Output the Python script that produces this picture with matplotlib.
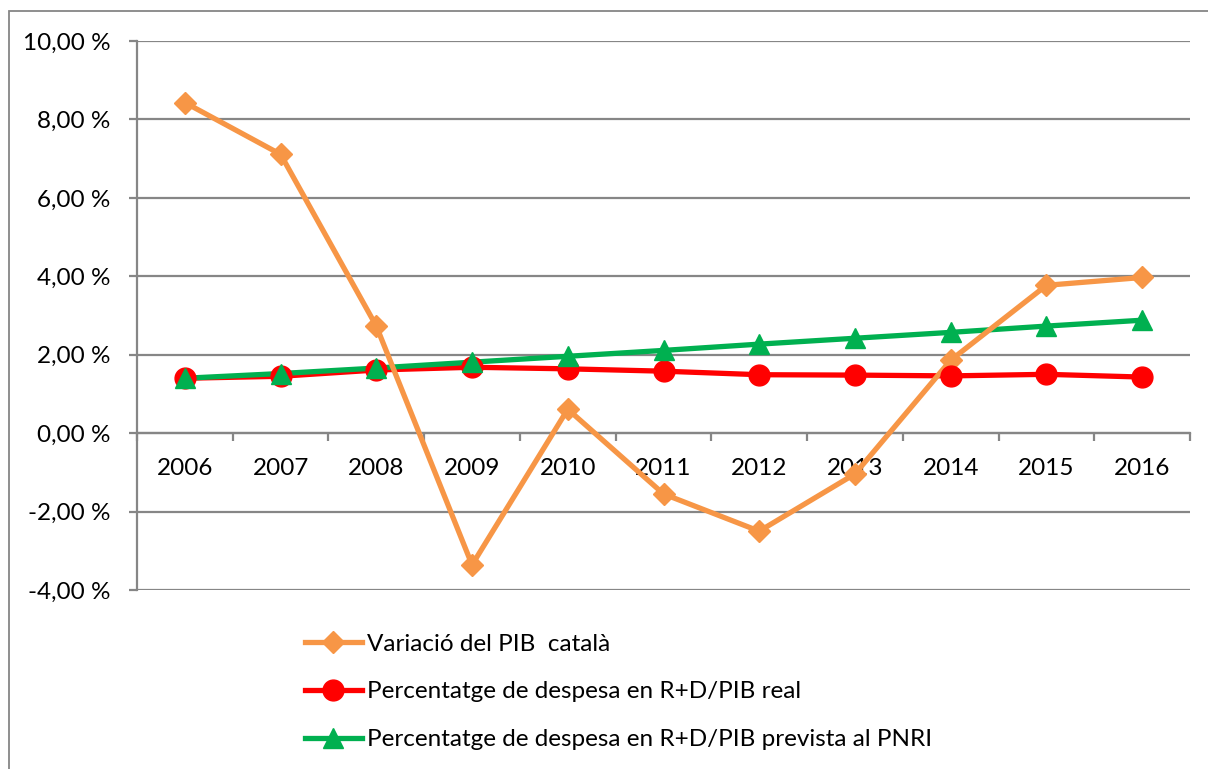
import matplotlib
matplotlib.use('Agg')
import matplotlib.pyplot as plt
from matplotlib.lines import Line2D
from matplotlib.patches import Rectangle
from matplotlib.ticker import FuncFormatter

plt.rcParams['font.family'] = ['Lato', 'DejaVu Sans']

# data
years = ['2006', '2007', '2008', '2009', '2010', '2011', '2012', '2013', '2014', '2015', '2016']
pib_var = [8.43, 7.11, 2.73, -3.36, 0.61, -1.55, -2.50, -1.04, 1.86, 3.77, 3.97]
rd_real = [1.40, 1.45, 1.61, 1.68, 1.64, 1.58, 1.49, 1.48, 1.46, 1.50, 1.43]
rd_pnri = [1.40, 1.52, 1.66, 1.81, 1.96, 2.11, 2.27, 2.42, 2.57, 2.73, 2.88]

labels = ['Variació del PIB  català',
          'Percentatge de despesa en R+D/PIB real',
          'Percentatge de despesa en R+D/PIB prevista al PNRI']
c_orange = '#F79646'
c_red = '#FF0000'
c_green = '#00B050'
grid_col = '#868686'
fs = 17.5
lw = 3.8

fig = plt.figure(figsize=(12.08, 7.69), dpi=100)
ax = fig.add_axes([137/1208, 1 - 590/769, (1190-137)/1208, (590-41)/769])

x = list(range(len(years)))

# lines first (red, green, orange), then markers
ax.plot(x, rd_real, color=c_red, lw=lw, zorder=3, solid_capstyle='round')
ax.plot(x, rd_pnri, color=c_green, lw=lw, zorder=4, solid_capstyle='round')
ax.plot(x, pib_var, color=c_orange, lw=lw, zorder=5, solid_capstyle='round')
ax.plot(x, pib_var, ls='none', marker='D', ms=11.5, color=c_orange, zorder=6)
ax.plot(x, rd_real, ls='none', marker='o', ms=15, color=c_red, zorder=7)
ax.plot(x, rd_pnri, ls='none', marker='^', ms=15, color=c_green, zorder=8)

ax.set_xlim(-0.5, len(years) - 0.5)
ax.set_ylim(-4, 10)
ax.set_yticks(range(-4, 11, 2))
ax.yaxis.set_major_formatter(FuncFormatter(lambda v, p: f'{v:.2f}'.replace('.', ',') + ' %'))
ax.grid(axis='y', color=grid_col, lw=1.6, zorder=0)
ax.set_axisbelow(True)

for s in ['top', 'right']:
    ax.spines[s].set_visible(False)
ax.spines['left'].set_color(grid_col)
ax.spines['left'].set_linewidth(1.6)
ax.spines['bottom'].set_position(('data', 0))
ax.spines['bottom'].set_color(grid_col)
ax.spines['bottom'].set_linewidth(1.6)

ax.set_xticks(x)
ax.set_xticklabels(years)
ax.set_xticks([i - 0.5 for i in range(len(years) + 1)], minor=True)
ax.tick_params(axis='x', which='major', length=0, pad=18, labelsize=fs)
ax.tick_params(axis='x', which='minor', length=6, width=1.6, color=grid_col, direction='out')
ax.tick_params(axis='y', length=6, width=1.6, color=grid_col, labelsize=fs, pad=13)

handles = [
    Line2D([], [], color=c_orange, lw=lw, marker='D', ms=11.5),
    Line2D([], [], color=c_red, lw=lw, marker='o', ms=15),
    Line2D([], [], color=c_green, lw=lw, marker='^', ms=15),
]
fig.legend(handles, labels, loc='upper left', bbox_to_anchor=(295/1208, 1 - 624/769),
           frameon=False, fontsize=fs, handlelength=2.35, handletextpad=0.2,
           labelspacing=1.1, borderaxespad=0)

# outer chart border
fig.patches.append(Rectangle((9/1208, -0.05), 1.1, 1.05 - 11/769, transform=fig.transFigure,
                             fill=False, edgecolor=grid_col, lw=1.3))

fig.savefig('out.png', dpi=100)
